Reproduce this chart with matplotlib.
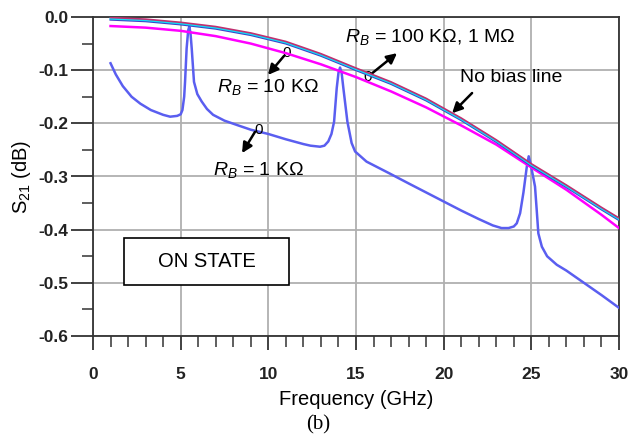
import matplotlib
matplotlib.use("Agg")
import matplotlib.pyplot as plt
from matplotlib.patches import Rectangle
from matplotlib.ticker import MultipleLocator

plt.rcParams['font.family'] = ['Liberation Sans', 'DejaVu Sans']
plt.rcParams['mathtext.fontset'] = 'custom'
plt.rcParams['mathtext.rm'] = 'Liberation Sans'
plt.rcParams['mathtext.it'] = 'Liberation Sans:italic'
plt.rcParams['mathtext.bf'] = 'Liberation Sans:bold'

# ---- data ----
freq_smooth = [1, 3, 5, 7, 9, 11, 13, 15, 17, 19, 21, 23, 25, 27, 29, 30]
rb_1M = [-0.001, -0.004, -0.010, -0.018, -0.030, -0.046, -0.069, -0.096, -0.122,
         -0.153, -0.190, -0.231, -0.276, -0.316, -0.358, -0.378]
rb_100k = [-0.003, -0.006, -0.012, -0.020, -0.032, -0.048, -0.071, -0.098, -0.124,
           -0.155, -0.192, -0.233, -0.278, -0.318, -0.360, -0.380]
rb_10k = [-0.005, -0.008, -0.014, -0.022, -0.034, -0.050, -0.073, -0.100, -0.126,
          -0.157, -0.194, -0.235, -0.280, -0.320, -0.362, -0.382]
no_bias = [-0.017, -0.020, -0.026, -0.036, -0.050, -0.068, -0.089, -0.113, -0.140,
           -0.170, -0.204, -0.240, -0.283, -0.325, -0.372, -0.397]

freq_1k = [1.0, 1.3, 1.7, 2.2, 2.7, 3.3, 4.0, 4.4, 4.8, 5.0, 5.1, 5.2, 5.25, 5.34,
           5.43, 5.49, 5.56, 5.63, 5.76, 5.95, 6.2, 6.5, 6.85, 7.5, 8.2, 9.0, 10.0,
           11.0, 12.0, 12.4, 12.95, 13.2, 13.42, 13.6, 13.75, 13.9, 14.0, 14.09,
           14.18, 14.28, 14.51, 14.75, 14.95, 15.6, 16.9, 18.0, 19.0, 20.0, 21.0,
           22.0, 22.8, 23.3, 23.7, 24.0, 24.17, 24.36, 24.55, 24.74, 24.85, 24.95,
           25.1, 25.21, 25.3, 25.4, 25.6, 25.9, 26.45, 27.0, 28.0, 29.0, 30.0]
rb_1k = [-0.087, -0.108, -0.130, -0.150, -0.163, -0.175, -0.184, -0.1875, -0.186,
         -0.183, -0.175, -0.150, -0.122, -0.059, -0.025, -0.018, -0.030, -0.059,
         -0.122, -0.145, -0.159, -0.173, -0.184, -0.195, -0.203, -0.212, -0.220,
         -0.230, -0.239, -0.242, -0.244, -0.242, -0.234, -0.220, -0.197, -0.134,
         -0.105, -0.095, -0.105, -0.134, -0.197, -0.237, -0.253, -0.272, -0.294,
         -0.313, -0.330, -0.347, -0.364, -0.380, -0.392, -0.397, -0.397, -0.394,
         -0.388, -0.369, -0.330, -0.282, -0.262, -0.275, -0.300, -0.319, -0.360,
         -0.407, -0.432, -0.450, -0.466, -0.477, -0.500, -0.523, -0.547]

x_ticks = [0, 5, 10, 15, 20, 25, 30]
y_ticks = [0.0, -0.1, -0.2, -0.3, -0.4, -0.5, -0.6]
y_tick_labels = ["0.0", "-0.1", "-0.2", "-0.3", "-0.4", "-0.5", "-0.6"]

# ---- figure ----
fig = plt.figure(figsize=(6.29, 4.44), dpi=100)
ax = fig.add_axes([93/629, 1-336/444, (619-93)/629, (336-17)/444])

ax.plot(freq_1k, rb_1k, color='#5a5ef0', lw=1.8, zorder=3)
ax.plot(freq_smooth, no_bias, color='#ff00ff', lw=1.8, zorder=4)
ax.plot(freq_smooth, rb_10k, color='#3a44c8', lw=1.5, zorder=4)
ax.plot(freq_smooth, rb_100k, color='#10e0f8', lw=1.5, zorder=5)
ax.plot(freq_smooth, rb_1M, color='#c03070', lw=1.2, zorder=6)

ax.set_xlim(0, 30)
ax.set_ylim(-0.6, 0.0)
ax.set_xticks(x_ticks)
ax.set_yticks(y_ticks)
ax.set_yticklabels(y_tick_labels)
ax.xaxis.set_minor_locator(MultipleLocator(1))
ax.yaxis.set_minor_locator(MultipleLocator(0.05))
ax.grid(True, which='major', color='#b0b0b0', lw=1.3)
ax.set_axisbelow(True)
for s in ax.spines.values():
    s.set_color('#333333')
    s.set_linewidth(1.3)
ax.tick_params(axis='x', which='major', direction='out', length=10, width=1.3,
               color='#333333', pad=12, labelsize=12.5)
ax.tick_params(axis='x', which='minor', direction='out', length=8, width=1.1,
               color='#333333')
ax.tick_params(axis='y', which='major', direction='out', length=16, width=1.3,
               color='#333333', pad=1.5, labelsize=12.5)
ax.tick_params(axis='y', which='minor', direction='out', length=8, width=1.1,
               color='#333333')
for lab in ax.get_xticklabels() + ax.get_yticklabels():
    lab.set_fontweight('bold')
    lab.set_color('#222222')

ax.set_xlabel('Frequency (GHz)', fontsize=14.5, labelpad=6)
ax.set_ylabel('S$_{21}$ (dB)', fontsize=14.5, labelpad=4)

# ---- annotations ----
tfs = 14
ax.text(7.07, -0.132, r'$R_B$ = 10 K$\Omega$', fontsize=tfs, ha='left', va='center')
ax.text(6.85, -0.288, r'$R_B$ = 1 K$\Omega$', fontsize=tfs, ha='left', va='center')
ax.text(14.38, -0.038, r'$R_B$ = 100 K$\Omega$, 1 M$\Omega$', fontsize=tfs, ha='left', va='center')
ax.text(20.94, -0.113, 'No bias line', fontsize=tfs, ha='left', va='center')

arrow = dict(arrowstyle='-|>,head_length=0.6,head_width=0.3', color='black', lw=1.8,
             shrinkA=0, shrinkB=0)
ax.annotate('', xy=(9.98, -0.109), xytext=(10.9, -0.073), arrowprops=arrow)
ax.annotate('', xy=(8.5, -0.256), xytext=(9.24, -0.216), arrowprops=arrow)
ax.annotate('', xy=(17.34, -0.068), xytext=(15.8, -0.109), arrowprops=arrow)
ax.annotate('', xy=(20.48, -0.181), xytext=(21.62, -0.143), arrowprops=arrow)
ax.text(11.05, -0.068, '0', fontsize=11, ha='center', va='center')
ax.text(9.45, -0.212, '0', fontsize=11, ha='center', va='center')
ax.text(15.65, -0.113, '0', fontsize=11, ha='center', va='center')

ax.add_patch(Rectangle((1.77, -0.504), 11.18-1.77, 0.088, facecolor='white',
                       edgecolor='black', lw=1.2, zorder=7))
ax.text(6.47, -0.460, 'ON STATE', fontsize=14.5, ha='center', va='center', zorder=8)

fig.text(318/629, 1-425/444, '(b)', fontsize=15, ha='center', va='center',
         family=['Liberation Serif', 'DejaVu Serif'])

fig.savefig('out.png', dpi=100)
